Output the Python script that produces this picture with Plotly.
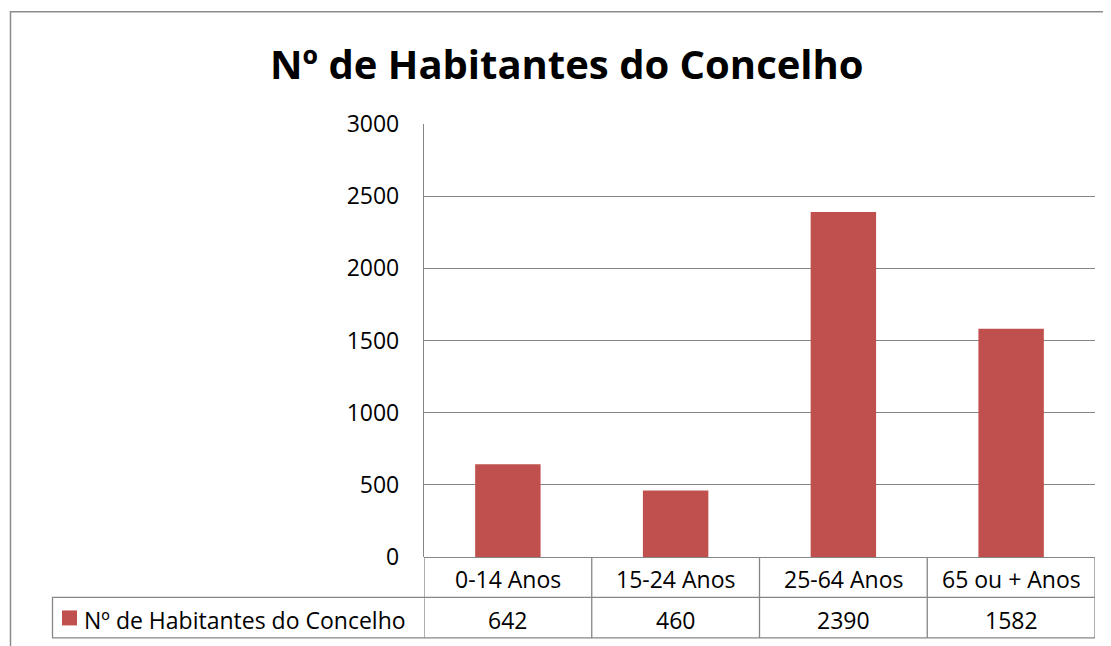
import plotly.graph_objects as go

categories = ["0-14 Anos", "15-24 Anos", "25-64 Anos", "65 ou + Anos"]
values = [642, 460, 2390, 1582]
series_name = "Nº de Habitantes do Concelho"
title_text = "Nº de Habitantes do Concelho"
y_ticks = [0, 500, 1000, 1500, 2000, 2500, 3000]

# page has an 8px body margin; work in reference pixels and subtract it
OFF = 8
W, H = 1111 - OFF, 646 - OFF
L, R, T, B = 424 - OFF, 1111 - 1095, 124 - OFF, 646 - 557.5
pw = W - L - R
ph = H - T - B

def px_x(p):
    return (p - OFF - L) / pw

def px_y(p):
    return (H - B - (p - OFF)) / ph

FONT = "Open Sans"
GRID = "#868686"
BAR = "#C0504D"
FS = 23

fig = go.Figure()
fig.add_trace(go.Bar(
    x=list(range(len(categories))), y=values, name=series_name,
    marker=dict(color=BAR, line=dict(width=0)), width=0.39, showlegend=False,
))

shapes = []
shapes.append(dict(type="rect", xref="paper", yref="paper",
                   x0=px_x(10.5), x1=px_x(1130), y0=px_y(700), y1=px_y(11.5),
                   line=dict(color="#8c8c8c", width=1.5), fillcolor="rgba(0,0,0,0)", layer="below"))
row_top, row_mid, row_bot = 557.5, 598, 638.5
for py in [row_mid, row_bot]:
    shapes.append(dict(type="line", xref="paper", yref="paper",
                       x0=px_x(52), x1=1, y0=px_y(py), y1=px_y(py),
                       line=dict(color=GRID, width=1.3)))
n = len(categories)
for i in range(n + 1):
    shapes.append(dict(type="line", xref="x", yref="paper",
                       x0=i - 0.5, x1=i - 0.5, y0=px_y(row_bot), y1=0,
                       line=dict(color=GRID, width=1.3)))
shapes.append(dict(type="line", xref="paper", yref="paper",
                   x0=px_x(52.5), x1=px_x(52.5), y0=px_y(row_bot), y1=px_y(row_mid),
                   line=dict(color=GRID, width=1.3)))
shapes.append(dict(type="rect", xref="paper", yref="paper",
                   x0=px_x(62), x1=px_x(77), y0=px_y(626), y1=px_y(611),
                   fillcolor=BAR, line=dict(width=0)))

annotations = []
for i, c in enumerate(categories):
    annotations.append(dict(x=i, y=px_y((row_top + row_mid) / 2 + 1.5), xref="x", yref="paper",
                            text=c, showarrow=False, font=dict(family=FONT, size=FS, color="#000"),
                            xanchor="center", yanchor="middle"))
for i, v in enumerate(values):
    annotations.append(dict(x=i, y=px_y((row_mid + row_bot) / 2 + 2), xref="x", yref="paper",
                            text=str(v), showarrow=False, font=dict(family=FONT, size=FS, color="#000"),
                            xanchor="center", yanchor="middle"))
annotations.append(dict(x=px_x(82), y=px_y((row_mid + row_bot) / 2 + 2), xref="paper", yref="paper",
                        text=series_name, showarrow=False, font=dict(family=FONT, size=FS, color="#000"),
                        xanchor="left", yanchor="middle"))
annotations.append(dict(x=px_x(567), y=px_y(63), xref="paper", yref="paper",
                        text="<b>" + title_text + "</b>", showarrow=False,
                        font=dict(family=FONT, size=40, color="#000"),
                        xanchor="center", yanchor="middle"))

fig.update_layout(
    width=W, height=H,
    margin=dict(l=L, r=R, t=T, b=B, pad=0),
    paper_bgcolor="white", plot_bgcolor="white",
    xaxis=dict(range=[-0.5, n - 0.5], showticklabels=False, showgrid=False,
               zeroline=False, showline=False, fixedrange=True),
    yaxis=dict(range=[0, 3000], tickvals=y_ticks, ticktext=[str(t) for t in y_ticks],
               showgrid=True, gridcolor=GRID, gridwidth=1.3,
               zeroline=True, zerolinecolor=GRID, zerolinewidth=1.3,
               showline=True, linecolor=GRID, linewidth=1.3,
               ticks="", ticklabelstandoff=19,
               tickfont=dict(family=FONT, size=FS, color="#000")),
    shapes=shapes, annotations=annotations, bargap=0.61,
)

fig.write_html("out.html")
